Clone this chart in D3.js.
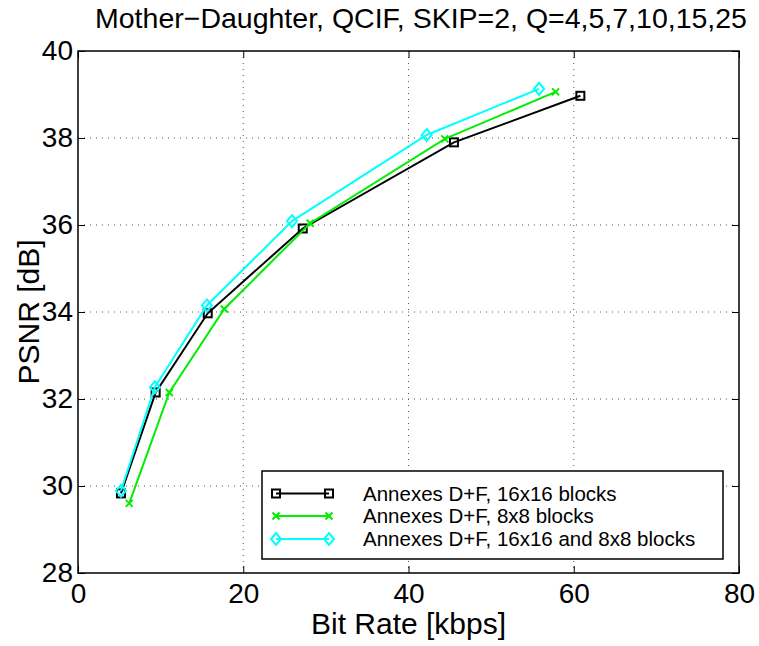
<!DOCTYPE html>
<html><head><meta charset="utf-8">
<script src="https://cdn.jsdelivr.net/npm/d3@7"></script>
<style>body{margin:0;background:#fff}svg{display:block}text{font-family:"Liberation Sans",Arial,sans-serif}</style>
</head><body><svg id="c" width="759" height="646"></svg>
<script>
const titleText = "Mother\u2212Daughter, QCIF, SKIP=2, Q=4,5,7,10,15,25";
const xLabel = "Bit Rate [kbps]";
const yLabel = "PSNR [dB]";
const xTicks = [0, 20, 40, 60, 80];
const yTicks = [28, 30, 32, 34, 36, 38, 40];
const seriesNames = ["Annexes D+F, 16x16 blocks", "Annexes D+F, 8x8 blocks", "Annexes D+F, 16x16 and 8x8 blocks"];
const seriesColors = ["#000000", "#00ee00", "#00ffff"];
const seriesMarkers = ["square", "x", "diamond"];
const rate16 = [5.2, 9.4, 15.7, 27.2, 45.5, 60.8];
const psnr16 = [29.83, 32.15, 33.97, 35.92, 37.9, 38.97];
const rate8 = [6.2, 11.05, 17.7, 28.1, 44.4, 57.8];
const psnr8 = [29.6, 32.15, 34.07, 36.04, 37.98, 39.06];
const rateBoth = [5.2, 9.3, 15.6, 25.9, 42.2, 55.8];
const psnrBoth = [29.89, 32.27, 34.15, 36.09, 38.07, 39.13];

const series = [
  {name: seriesNames[0], color: seriesColors[0], marker: seriesMarkers[0], x: rate16, y: psnr16},
  {name: seriesNames[1], color: seriesColors[1], marker: seriesMarkers[1], x: rate8, y: psnr8},
  {name: seriesNames[2], color: seriesColors[2], marker: seriesMarkers[2], x: rateBoth, y: psnrBoth}
];

const svg = d3.select("#c");
const L = 78, R = 739, T = 51, B = 573;
const x = d3.scaleLinear().domain([0, 80]).range([L, R]);
const y = d3.scaleLinear().domain([28, 40]).range([B, T]);

// grid
const g = svg.append("g");
g.selectAll(".gx").data(xTicks.filter(d => d > 0 && d < 80)).enter().append("line")
  .attr("x1", d => x(d)).attr("x2", d => x(d)).attr("y1", T).attr("y2", B)
  .attr("stroke", "#555").attr("stroke-width", 1).attr("stroke-dasharray", "1,5");
g.selectAll(".gy").data(yTicks.filter(d => d > 28 && d < 40)).enter().append("line")
  .attr("y1", d => y(d)).attr("y2", d => y(d)).attr("x1", L).attr("x2", R)
  .attr("stroke", "#555").attr("stroke-width", 1).attr("stroke-dasharray", "1,5");

// axes
const fs = 28;
const xAx = svg.append("g").attr("transform", `translate(0,${B})`)
  .call(d3.axisBottom(x).tickValues(xTicks).tickSize(-7).tickPadding(10).tickFormat(d3.format("d")));
const xAxT = svg.append("g").attr("transform", `translate(0,${T})`)
  .call(d3.axisTop(x).tickValues(xTicks).tickSize(-7).tickFormat(""));
const yAx = svg.append("g").attr("transform", `translate(${L},0)`)
  .call(d3.axisLeft(y).tickValues(yTicks).tickSize(-7).tickPadding(5).tickFormat(d3.format("d")));
const yAxR = svg.append("g").attr("transform", `translate(${R},0)`)
  .call(d3.axisRight(y).tickValues(yTicks).tickSize(-7).tickFormat(""));
[xAx, xAxT, yAx, yAxR].forEach(a => {
  a.attr("font-size", fs).attr("font-family", "Liberation Sans, Arial, sans-serif");
  a.select(".domain").remove();
  a.selectAll("line").attr("stroke", "#000").attr("stroke-width", 1);
  a.selectAll("text").attr("fill", "#000");
});
svg.append("rect").attr("x", L).attr("y", T).attr("width", R - L).attr("height", B - T)
  .attr("fill", "none").attr("stroke", "#000").attr("stroke-width", 1.5);

// markers
function drawMarker(sel, type, color, cx, cy) {
  if (type === "square") {
    sel.append("rect").attr("x", cx - 4).attr("y", cy - 4).attr("width", 8).attr("height", 8)
      .attr("fill", "none").attr("stroke", color).attr("stroke-width", 2);
  } else if (type === "x") {
    sel.append("path").attr("d", `M${cx-3.5},${cy-3.5}L${cx+3.5},${cy+3.5}M${cx-3.5},${cy+3.5}L${cx+3.5},${cy-3.5}`)
      .attr("stroke", color).attr("stroke-width", 2).attr("fill", "none");
  } else {
    sel.append("path").attr("d", `M${cx},${cy-6}L${cx+5},${cy}L${cx},${cy+6}L${cx-5},${cy}Z`)
      .attr("stroke", color).attr("stroke-width", 2).attr("fill", "none");
  }
}

const line = d3.line().x(d => x(d[0])).y(d => y(d[1]));
series.forEach(s => {
  const pts = s.x.map((v, i) => [v, s.y[i]]);
  svg.append("path").datum(pts).attr("d", line).attr("fill", "none")
    .attr("stroke", s.color).attr("stroke-width", 2);
  const mg = svg.append("g");
  pts.forEach(p => drawMarker(mg, s.marker, s.color, x(p[0]), y(p[1])));
});

// legend
const lg = svg.append("g");
lg.append("rect").attr("x", 262).attr("y", 471).attr("width", 461).attr("height", 88)
  .attr("fill", "#fff").attr("stroke", "#000").attr("stroke-width", 1.5);
const rowY = [493.5, 516, 539];
series.forEach((s, i) => {
  lg.append("line").attr("x1", 276).attr("x2", 329).attr("y1", rowY[i]).attr("y2", rowY[i])
    .attr("stroke", s.color).attr("stroke-width", 2);
  drawMarker(lg, s.marker, s.color, 276, rowY[i]);
  drawMarker(lg, s.marker, s.color, 329, rowY[i]);
  lg.append("text").attr("x", 363).attr("y", rowY[i] + 7).attr("font-size", 20.5).text(s.name);
});

// titles
svg.append("text").attr("x", 421).attr("y", 28).attr("text-anchor", "middle")
  .attr("font-size", 28.5).text(titleText);
svg.append("text").attr("x", (L + R) / 2).attr("y", 634).attr("text-anchor", "middle")
  .attr("font-size", 30).text(xLabel);
svg.append("text").attr("transform", `translate(39,${(T + B) / 2}) rotate(-90)`).attr("text-anchor", "middle")
  .attr("font-size", 30).text(yLabel);
</script></body></html>
